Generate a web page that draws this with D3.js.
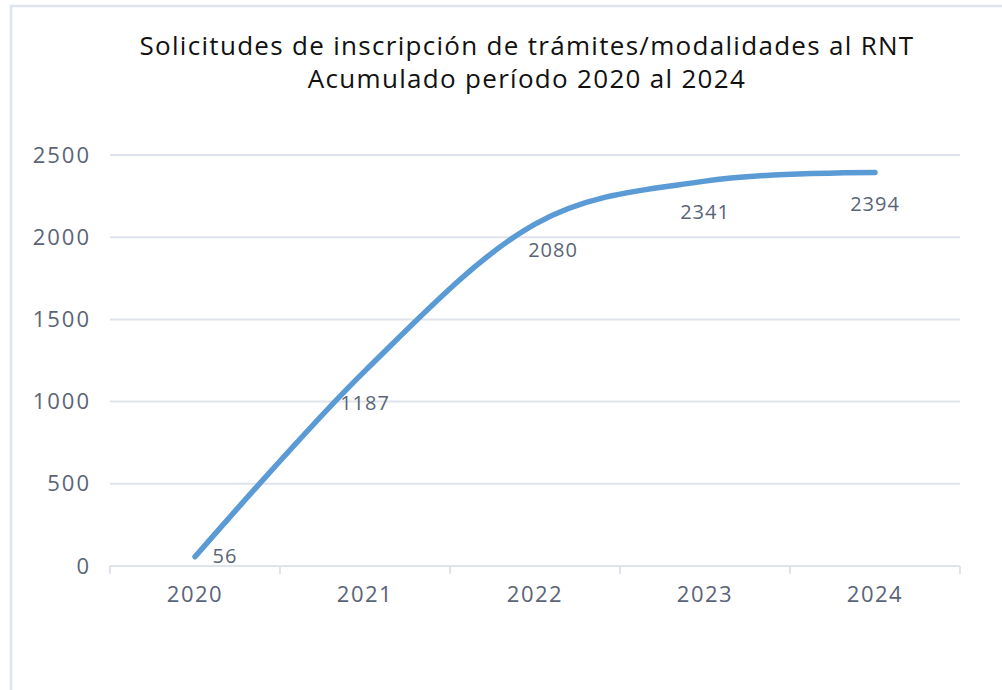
<!DOCTYPE html>
<html>
<head>
<meta charset="utf-8">
<script src="https://cdn.jsdelivr.net/npm/d3@7"></script>
<style>
  body { margin: 0; background: #fff; }
  svg { display: block; }
</style>
</head>
<body>
<div id="canvas"></div>
<script>
const years = ["2020", "2021", "2022", "2023", "2024"];
const totals = [56, 1187, 2080, 2341, 2394];
const yTicks = [0, 500, 1000, 1500, 2000, 2500];
const titleLines = ["Solicitudes de inscripción de trámites/modalidades al RNT", "Acumulado período 2020 al 2024"];

const w = 1002;
const h = 690;
const margin = { top: 155, right: 42, bottom: 124, left: 110 };
const width = w - margin.left - margin.right;
const height = h - margin.top - margin.bottom;
const font = "'Open Sans', sans-serif";

const svg = d3.select("#canvas")
  .append("svg")
  .attr("width", w)
  .attr("height", h);

// outer frame (cut off at right/bottom like the source screenshot)
svg.append("rect")
  .attr("x", 11).attr("y", 6)
  .attr("width", w + 20).attr("height", h + 20)
  .attr("fill", "#fff")
  .attr("stroke", "#dfe4ec")
  .attr("stroke-width", 2.5);

svg.append("text")
  .attr("x", 527)
  .attr("y", 55)
  .attr("text-anchor", "middle")
  .style("font-family", font)
  .style("font-size", "26px")
  .style("letter-spacing", "1.3px")
  .style("fill", "#111")
  .selectAll("tspan")
  .data(titleLines)
  .enter()
  .append("tspan")
  .attr("x", 527)
  .attr("dy", (d, i) => i === 0 ? 0 : 33)
  .text(d => d);

const chart = svg.append("g")
  .attr("transform", "translate(" + margin.left + "," + margin.top + ")");

const x = d3.scaleBand().domain(years).range([0, width]);
const y = d3.scaleLinear().domain([0, 2500]).range([height, 0]);

// gridlines
chart.append("g")
  .selectAll("line")
  .data(yTicks)
  .enter()
  .append("line")
  .attr("x1", 0).attr("x2", width)
  .attr("y1", d => y(d)).attr("y2", d => y(d))
  .attr("stroke", "#dfe4ec")
  .attr("stroke-width", 2);

// y axis labels
const yAxis = chart.append("g")
  .call(d3.axisLeft(y).tickValues(yTicks).tickFormat(d3.format("d")).tickSize(0).tickPadding(19));
yAxis.select(".domain").remove();
yAxis.selectAll("text")
  .style("font-family", font)
  .style("font-size", "22px")
  .style("letter-spacing", "2px")
  .style("fill", "#5a6478");

// x axis
const xAxis = chart.append("g")
  .attr("transform", "translate(0," + height + ")")
  .call(d3.axisBottom(x).tickSize(0).tickPadding(20));
xAxis.select(".domain").remove();
xAxis.selectAll("text")
  .style("font-family", font)
  .style("font-size", "22px")
  .style("letter-spacing", "1.5px")
  .style("fill", "#5a6478");

// category separators
const seps = years.map(d => x(d)).concat([width]);
chart.append("g")
  .selectAll("line")
  .data(seps)
  .enter()
  .append("line")
  .attr("x1", d => d).attr("x2", d => d)
  .attr("y1", height).attr("y2", height + 8)
  .attr("stroke", "#dfe4ec")
  .attr("stroke-width", 2);

const line = d3.line()
  .x((d, i) => x(years[i]) + x.bandwidth() / 2)
  .y(d => y(d))
  .curve(d3.curveCatmullRom.alpha(0));

chart.append("path")
  .datum(totals)
  .attr("fill", "none")
  .attr("stroke", "#5b9bd5")
  .attr("stroke-width", 5.5)
  .attr("stroke-linecap", "round")
  .attr("d", line);

// label nudges (dx, dy) to mimic the original placement
const nudge = [[30, 6], [0, 39], [18, 33], [0, 38], [0, 39]];
chart.append("g")
  .selectAll("text")
  .data(totals)
  .enter()
  .append("text")
  .attr("x", (d, i) => x(years[i]) + x.bandwidth() / 2 + nudge[i][0])
  .attr("y", (d, i) => y(d) + nudge[i][1])
  .attr("text-anchor", "middle")
  .style("font-family", font)
  .style("font-size", "20px")
  .style("letter-spacing", "1px")
  .style("fill", "#5a6478")
  .text(d => d);
</script>
</body>
</html>
